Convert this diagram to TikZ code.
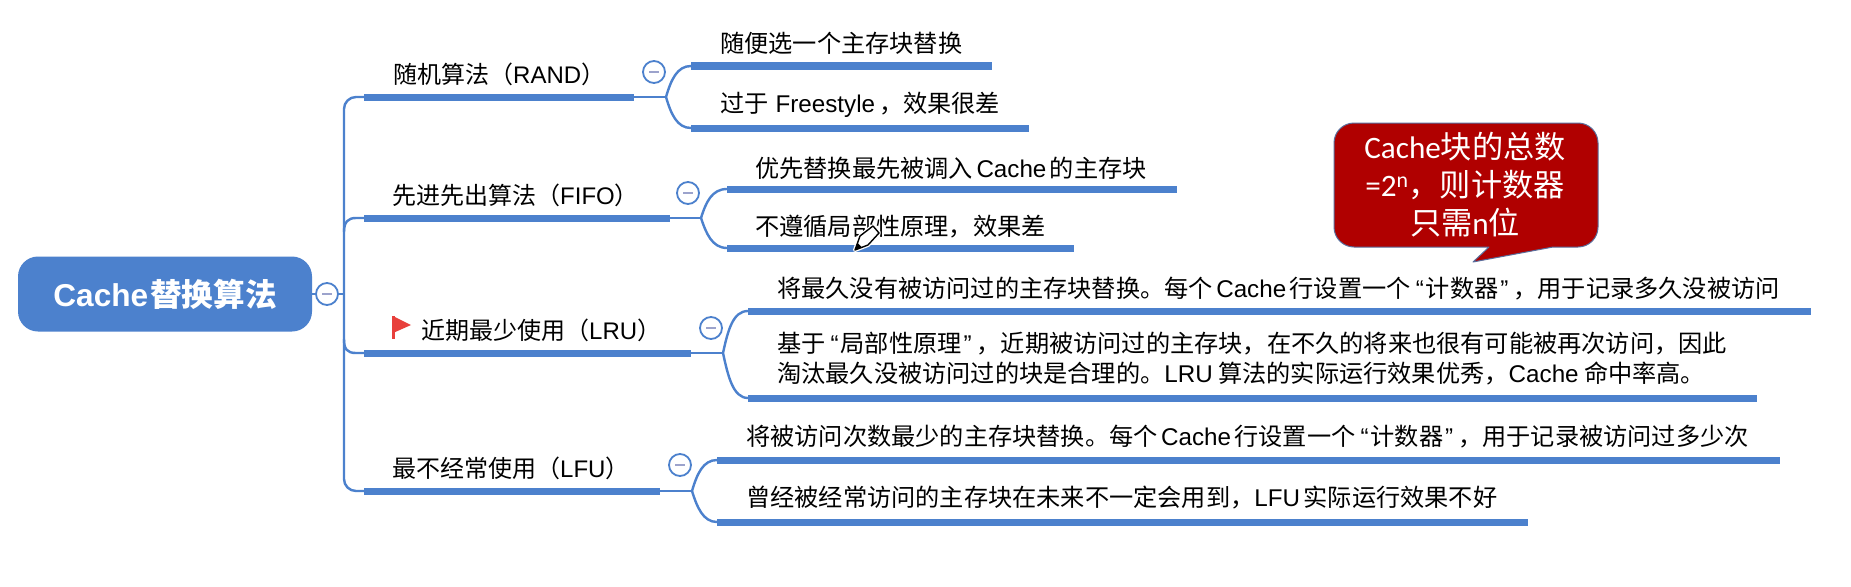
\documentclass[tikz,border=0pt]{standalone}
\usepackage{fontspec}
\setmainfont{Noto Sans CJK SC}
\newfontfamily\latinf{Liberation Sans}
\newfontfamily\calib{Carlito}
\newcommand{\la}[1]{{\latinf #1}}
\newcommand{\cb}[1]{{\calib #1}}
\newcommand{\gp}{\hspace{3.5pt}}
\newcommand{\qopen}{\hspace{5pt}{\latinf “}\hspace{2pt}}
\newcommand{\qclose}{\hspace{2pt}{\latinf ”}\hspace{5pt}}
\definecolor{mmblue}{HTML}{4C81CD}
\definecolor{mmminus}{HTML}{9CA3CC}
\definecolor{callred}{HTML}{B00000}
\definecolor{callline}{HTML}{5A6E9C}
\definecolor{flagred}{HTML}{E8403C}
\tikzset{
  branchbar/.style={draw=mmblue,line width=7pt},
  thinlink/.style={draw=mmblue,line width=2.4pt},
  topic/.style={inner sep=0pt,anchor=west,font=\fontsize{24}{28}\selectfont,text=black},
  leaf/.style={inner sep=0pt,anchor=west,align=left,font=\fontsize{24.2}{30}\selectfont,text=black},
  collapse/.style={circle,draw=mmblue,line width=1.8pt,fill=white,minimum size=22pt,inner sep=0pt},
  minusbar/.style={draw=mmminus,line width=2.2pt}
}
\begin{document}
\begin{tikzpicture}[x=1pt,y=-1pt]
\useasboundingbox (0,0) rectangle (1851,586);
\fill[white] (0,0) rectangle (1851,586);

% root
\node[fill=mmblue,rounded corners=20pt,minimum width=294pt,minimum height=75pt,inner sep=0pt,text=white,
  font=\fontsize{31.6}{34}\selectfont\bfseries] (root) at (165,294) {\raisebox{-3pt}{\la{\bfseries Cache}\hspace{2pt}替换算法}};

% bar end points
\coordinate (b1s) at (364,97);  \coordinate (b1e) at (634,97);
\coordinate (b2s) at (364,218); \coordinate (b2e) at (670,218);
\coordinate (b3s) at (364,353); \coordinate (b3e) at (691,353);
\coordinate (b4s) at (364,491); \coordinate (b4e) at (660,491);
\coordinate (tA) at (344,294);
\coordinate (tB) at (344,491);

\coordinate (s11) at (691,66);  \coordinate (e11) at (992,66);
\coordinate (s12) at (691,128); \coordinate (e12) at (1029,128);
\coordinate (s21) at (727,189); \coordinate (e21) at (1177,189);
\coordinate (s22) at (727,248); \coordinate (e22) at (1074,248);
\coordinate (s31) at (748,311); \coordinate (e31) at (1811,311);
\coordinate (s32) at (748,398); \coordinate (e32) at (1757,398);
\coordinate (s41) at (717,460); \coordinate (e41) at (1780,460);
\coordinate (s42) at (717,522); \coordinate (e42) at (1528,522);
\coordinate (j1) at (666,97);
\coordinate (j2) at (701,218);
\coordinate (j3) at (723,353);
\coordinate (j4) at (692,491);

% trunk
\draw[thinlink,rounded corners=12pt] (b1s) -| (tB) -- (b4s);
\draw[thinlink] (b2s) -- (356,218) .. controls (348,218) and (344,222) .. (344,232);
\draw[thinlink] (344,339) .. controls (344,349) and (347,353) .. (356,353) -- (b3s);
\draw[thinlink] (root.east |- tA) -- (tA);

% main bars
\foreach \a in {1,2,3,4} \draw[branchbar] (b\a s) -- (b\a e);

% stems and forks
\draw[thinlink] (b1e) -- (j1);
\draw[thinlink] (j1) .. controls (671,80) and (677,66) .. (s11);
\draw[thinlink] (j1) .. controls (671,114) and (677,128) .. (s12);
\draw[thinlink] (b2e) -- (j2);
\draw[thinlink] (j2) .. controls (706,202) and (712,189) .. (s21);
\draw[thinlink] (j2) .. controls (706,233) and (712,248) .. (s22);
\draw[thinlink] (b3e) -- (j3);
\draw[thinlink] (j3) .. controls (728,330) and (733,311) .. (s31);
\draw[thinlink] (j3) .. controls (728,376) and (733,398) .. (s32);
\draw[thinlink] (b4e) -- (j4);
\draw[thinlink] (j4) .. controls (697,474) and (703,460) .. (s41);
\draw[thinlink] (j4) .. controls (697,507) and (703,522) .. (s42);

% leaf bars
\foreach \a/\b in {1/1,1/2,2/1,2/2,3/1,3/2,4/1,4/2} \draw[branchbar] (s\a\b) -- (e\a\b);

% collapse buttons
\foreach \n/\x/\y in {c0/327/294,c1/654/72,c2/688/193,c3/711/328,c4/680/465}{
  \node[collapse] (\n) at (\x,\y) {};
  \draw[minusbar] ([xshift=-5pt]\n.center) -- ([xshift=5pt]\n.center);
}

% topics
\node[topic] (t1) at (393,74) {随机算法（\la{RAND}）};
\node[topic] (t2) at (392,195) {先进先出算法（\la{FIFO}）};
\node[topic] (t3) at (421,330) {近期最少使用（\la{LRU}）};
\node[topic] (t4) at (392,468) {最不经常使用（\la{LFU}）};

% flag
\fill[flagred] (392,316) rectangle (394.5,339);
\fill[flagred] (393,316) -- (411,325) -- (393,333) -- cycle;

% leaves
\node[leaf] (l11) at (720,43) {随便选一个主存块替换};
\node[leaf] (l12) at (720,105) {过于\hspace{7pt}\la{Freestyle}\hspace{4pt}，效果很差};
\node[leaf] (l21) at (755,168) {优先替换最先被调入\gp\la{Cache}\gp 的主存块};
\node[leaf] (l22) at (755,227) {不遵循局部性原理，效果差};
\node[leaf] (l31) at (777,289) {将最久没有被访问过的主存块替换。每个\gp\la{Cache}\gp 行设置一个\qopen 计数器\qclose ，用于记录多久没被访问};
\node[leaf] (l32) at (777,359) {基于\qopen 局部性原理\qclose ，近期被访问过的主存块，在不久的将来也很有可能被再次访问，因此\\淘汰最久没被访问过的块是合理的。\la{LRU}\hspace{5.5pt}算法的实际运行效果优秀，\la{Cache}\hspace{5.5pt}命中率高。};
\node[leaf] (l41) at (746,437) {将被访问次数最少的主存块替换。每个\gp\la{Cache}\gp 行设置一个\qopen 计数器\qclose ，用于记录被访问过多少次};
\node[leaf] (l42) at (746,498) {曾经被经常访问的主存块在未来不一定会用到，\la{LFU}\gp 实际运行效果不好};

% pen cursor
\draw[white,line width=4pt,line join=round,fill=white] (855,250) -- (860,236) -- (873,226) -- (879,233) -- (868,245) -- cycle;
\draw[black,line width=1.4pt,line join=round,fill=white] (855,250) -- (860,236) -- (873,226) -- (879,233) -- (868,245) -- cycle;
\fill[black] (855,250) -- (857.5,243) -- (862,247.5) -- cycle;

% callout
\draw[fill=callred,draw=callline,line width=1pt,line join=round]
  (1354,123) -- (1578,123) arc[start angle=-90,end angle=0,radius=20] -- (1598,227)
  arc[start angle=0,end angle=90,radius=20] -- (1553,247) -- (1473,262) -- (1489,247) -- (1354,247)
  arc[start angle=90,end angle=180,radius=20] -- (1334,143) arc[start angle=180,end angle=270,radius=20] -- cycle;
\node[inner sep=0pt,text=white,align=center,font=\fontsize{31.2}{38}\selectfont] (call) at (1465,185)
  {\cb{Cache}块的总数\\\cb{=2\textsuperscript{n}}，则计数器\\只需\cb{n}位};
\end{tikzpicture}
\end{document}
